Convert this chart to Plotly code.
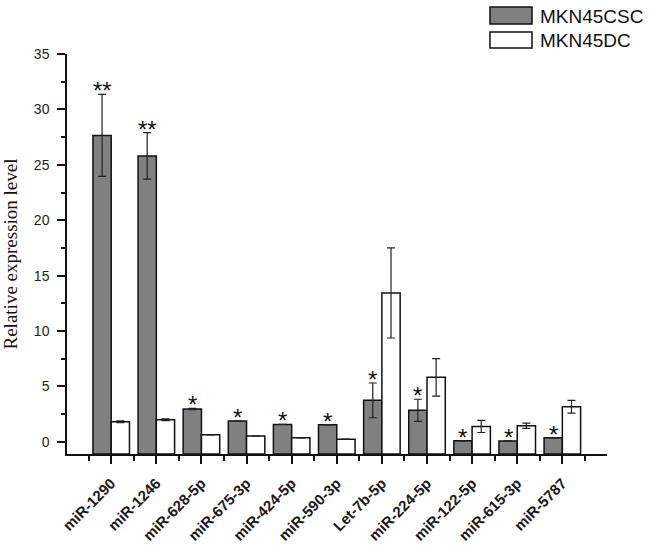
import plotly.graph_objects as go

categories = ["miR-1290", "miR-1246", "miR-628-5p", "miR-675-3p", "miR-424-5p",
              "miR-590-3p", "Let-7b-5p", "miR-224-5p", "miR-122-5p", "miR-615-3p", "miR-5787"]
csc_values = [27.65, 25.8, 2.96, 1.87, 1.57, 1.54, 3.74, 2.84, 0.09, 0.08, 0.36]
csc_errors = [3.7, 2.1, 0.05, 0.0, 0.0, 0.0, 1.57, 1.0, 0.0, 0.0, 0.0]
dc_values = [1.81, 1.99, 0.63, 0.52, 0.36, 0.24, 13.44, 5.82, 1.39, 1.45, 3.16]
dc_errors = [0.08, 0.08, 0.0, 0.0, 0.0, 0.0, 4.07, 1.69, 0.55, 0.24, 0.58]
csc_stars = ["**", "**", "*", "*", "*", "*", "*", "*", "*", "*", "*"]
series_names = ["MKN45CSC", "MKN45DC"]
series_colors = ["#808080", "white"]

Y_MIN, Y_MAX = -1.1, 35
BAR_W = 0.405
idx = list(range(len(categories)))
x_csc = [i - BAR_W / 2 for i in idx]
x_dc = [i + BAR_W / 2 for i in idx]

fig = go.Figure()
for name, color, xs, vals in [(series_names[0], series_colors[0], x_csc, csc_values),
                              (series_names[1], series_colors[1], x_dc, dc_values)]:
    fig.add_trace(go.Bar(
        name=name, x=xs, y=[v - Y_MIN for v in vals], base=Y_MIN,
        width=BAR_W, marker=dict(color=color, line=dict(color="#111111", width=1.5)),
        showlegend=False,
    ))
# error bars
for xs, vals, errs in [(x_csc, csc_values, csc_errors), (x_dc, dc_values, dc_errors)]:
    fig.add_trace(go.Scatter(
        x=xs, y=vals, mode="markers", marker=dict(size=1, opacity=0),
        error_y=dict(type="data", array=errs, visible=True, color="#222222",
                     thickness=1.2, width=4),
        showlegend=False, hoverinfo="skip",
    ))
# significance stars
for xs, v, e, s in zip(x_csc, csc_values, csc_errors, csc_stars):
    fig.add_annotation(
        x=xs, y=v + e, text=s, showarrow=False, xanchor="center", yanchor="bottom",
        yshift=-12, font=dict(family="Liberation Sans, Arial", size=24, color="#111111"),
    )

# legend (drawn as large boxes like the original)
legend_rows = [(1.0750, 1.1175, 1.095), (1.015, 1.055, 1.035)]
for (y0, y1, yt), name, color in zip(legend_rows, series_names, series_colors):
    fig.add_shape(type="rect", xref="paper", yref="paper", x0=0.7833, x1=0.8611,
                  y0=y0, y1=y1, fillcolor=color, line=dict(color="#111111", width=1.5))
    fig.add_annotation(xref="paper", yref="paper", x=0.872, y=yt, text=name,
                       showarrow=False, xanchor="left", yanchor="middle",
                       font=dict(family="Liberation Sans, Arial", size=19, color="#111111"))

fig.update_layout(
    width=650, height=545,
    margin=dict(l=67, r=43, t=54, b=91, autoexpand=False),
    plot_bgcolor="white", paper_bgcolor="white",
    barmode="overlay", showlegend=False,
    font=dict(family="Liberation Sans, Arial", color="#222222"),
)
fig.update_xaxes(
    range=[-0.98, 10.99], tickmode="array", tickvals=idx, ticktext=categories,
    tickangle=-45, tickfont=dict(family="Liberation Sans, Arial", size=15, color="#1a1a1a", weight="bold"),
    ticklabelstandoff=5,
    showline=True, linecolor="#111111", linewidth=1.5, showgrid=False, zeroline=False,
    ticks="outside", ticklen=8, tickwidth=1.5, tickcolor="#111111",
    minor=dict(tickmode="array", tickvals=[i - 0.5 for i in idx] + [len(idx) - 0.5],
               ticks="outside", ticklen=5, tickwidth=1.5, tickcolor="#111111"),
)
fig.update_yaxes(
    range=[Y_MIN, Y_MAX], tickmode="linear", tick0=0, dtick=5,
    tickfont=dict(family="Liberation Sans, Arial", size=14, color="#222222"),
    ticklabelstandoff=5,
    showline=True, linecolor="#111111", linewidth=1.5, showgrid=False, zeroline=False,
    ticks="outside", ticklen=8, tickwidth=1.5, tickcolor="#111111",
    minor=dict(tickmode="linear", tick0=0, dtick=2.5, ticks="outside", ticklen=4,
               tickwidth=1.5, tickcolor="#111111"),
    title=dict(text="Relative expression level", standoff=16,
               font=dict(family="Liberation Serif, Times New Roman", size=19, color="#111111")),
)

fig.write_html("out.html", config={"displayModeBar": False},
               post_script="document.body.style.margin='0';document.body.style.overflow='hidden';")
